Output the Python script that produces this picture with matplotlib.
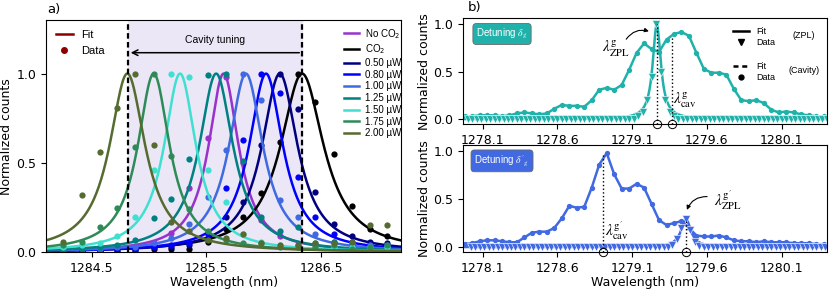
import numpy as np
import matplotlib
matplotlib.use("Agg")
import matplotlib.pyplot as plt
from matplotlib.lines import Line2D

# ---------------- panel a: cavity tuning ----------------
SERIES_LABELS = ["No CO$_2$", "CO$_2$", "0.50 µW", "0.80 µW", "1.00 µW",
                 "1.25 µW", "1.50 µW", "1.75 µW", "2.00 µW"]
SERIES_COLORS = ["darkorchid", "black", "navy", "blue", "royalblue",
                 "teal", "turquoise", "seagreen", "darkolivegreen"]
# Lorentzian fit parameters (nm)
FIT_CENTERS = [1285.65, 1286.335, 1286.14, 1286.02, 1285.845,
               1285.585, 1285.27, 1285.04, 1284.81]
FIT_HWHM = [0.16, 0.23, 0.19, 0.18, 0.18, 0.18, 0.17, 0.17, 0.19]

DATA_WL = [1284.25, 1284.41, 1284.57, 1284.72, 1284.88, 1285.04, 1285.19,
           1285.35, 1285.51, 1285.67, 1285.82, 1285.98, 1286.14, 1286.30,
           1286.45, 1286.61, 1286.77, 1286.93, 1287.08]
counts_no_co2 = [0.02, 0.02, 0.02, 0.03, 0.03, 0.05, 0.11, 0.36, 0.64, 0.98,
                 0.50, 0.18, 0.09, 0.04, 0.03, 0.03, 0.02, 0.02, 0.02]
counts_co2 = [0.01, 0.01, 0.01, 0.00, 0.01, 0.02, 0.02, 0.02, 0.06, 0.13,
              0.20, 0.33, 0.62, 1.00, 0.84, 0.55, 0.26, 0.13, 0.09]
counts_050 = [0.01, 0.01, 0.01, 0.02, 0.02, 0.03, 0.03, 0.04, 0.08, 0.20,
              0.28, 0.60, 1.00, 0.80, 0.34, 0.16, 0.09, 0.06, 0.05]
counts_080 = [0.01, 0.01, 0.01, 0.01, 0.02, 0.03, 0.04, 0.05, 0.10, 0.36,
              0.63, 1.00, 0.89, 0.42, 0.20, 0.10, 0.06, 0.04, 0.03]
counts_100 = [0.01, 0.02, 0.02, 0.03, 0.03, 0.05, 0.08, 0.16, 0.31, 0.57,
              1.00, 0.85, 0.29, 0.20, 0.10, 0.06, 0.05, 0.04, 0.04]
counts_125 = [0.02, 0.02, 0.03, 0.04, 0.07, 0.19, 0.30, 0.52, 0.99, 1.00,
              0.51, 0.20, 0.12, 0.14, 0.05, 0.06, 0.04, 0.03, 0.03]
counts_150 = [0.03, 0.04, 0.05, 0.09, 0.20, 0.46, 1.00, 0.98, 0.46, 0.28,
              0.10, 0.06, 0.04, 0.03, 0.03, 0.03, 0.03, 0.03, 0.03]
counts_175 = [0.04, 0.06, 0.14, 0.25, 0.59, 1.00, 0.54, 0.24, 0.12, 0.07,
              0.05, 0.05, 0.03, 0.03, 0.03, 0.04, 0.02, 0.03, 0.04]
counts_200 = [0.06, 0.32, 0.56, 0.81, 1.00, 0.60, 0.17, 0.12, 0.07, 0.08,
              0.10, 0.05, 0.04, 0.04, 0.05, 0.05, 0.06, 0.15, 0.15]
SERIES_COUNTS = [counts_no_co2, counts_co2, counts_050, counts_080, counts_100,
                 counts_125, counts_150, counts_175, counts_200]

TUNING_START = 1286.335
TUNING_END = 1284.815

# ---------------- panel b: detuning spectra ----------------
CAV_WL = [1277.98, 1278.03, 1278.08, 1278.13, 1278.18, 1278.23, 1278.28,
          1278.33, 1278.38, 1278.43, 1278.48, 1278.53, 1278.58, 1278.63,
          1278.68, 1278.73, 1278.78, 1278.83, 1278.88, 1278.93, 1278.98,
          1279.03, 1279.08, 1279.13, 1279.18, 1279.23, 1279.28, 1279.33,
          1279.38, 1279.43, 1279.48, 1279.53, 1279.58, 1279.63, 1279.68,
          1279.73, 1279.78, 1279.83, 1279.88, 1279.93, 1279.98, 1280.03,
          1280.08, 1280.13, 1280.18, 1280.23, 1280.28, 1280.33, 1280.38]
cav_top = [0.03, 0.03, 0.04, 0.04, 0.04, 0.03, 0.04, 0.06, 0.07, 0.06,
           0.05, 0.06, 0.11, 0.15, 0.14, 0.14, 0.13, 0.20, 0.31, 0.33,
           0.31, 0.36, 0.52, 0.70, 0.80, 0.74, 0.71, 0.84, 0.90, 0.92,
           0.88, 0.70, 0.53, 0.49, 0.49, 0.47, 0.32, 0.20, 0.19, 0.20,
           0.17, 0.10, 0.07, 0.08, 0.07, 0.05, 0.04, 0.03, 0.03]
cav_bot = [0.03, 0.04, 0.06, 0.07, 0.07, 0.06, 0.05, 0.05, 0.10, 0.15,
           0.16, 0.16, 0.20, 0.30, 0.43, 0.41, 0.42, 0.62, 0.86, 0.98,
           0.76, 0.61, 0.61, 0.66, 0.62, 0.45, 0.28, 0.23, 0.25, 0.27,
           0.20, 0.12, 0.11, 0.11, 0.12, 0.10, 0.07, 0.06, 0.06, 0.05,
           0.06, 0.05, 0.05, 0.05, 0.04, 0.04, 0.04, 0.03, 0.03]

# ZPL spectra, 0.03 nm spectrometer pixels
zpl_top_wl = np.round(np.arange(81) * 0.03 + 1278.00, 2)
zpl_top = [0.0] * 38 + [0.03, 0.07, 0.20, 0.45, 1.00, 0.50, 0.20, 0.08, 0.03] + [0.0] * 34
zpl_bot_wl = np.round(np.arange(81) * 0.03 + 1278.02, 2)
zpl_bot = [0.0] * 45 + [0.02, 0.08, 0.20, 0.29, 0.18, 0.05, 0.01] + [0.0] * 29

# ZPL Lorentzian fits: center, hwhm, amplitude
ZPL_FIT_TOP = (1279.265, 0.033, 1.0)
ZPL_FIT_BOT = (1279.46, 0.040, 0.29)
CAV_PEAK_TOP = (1279.364, 0.88)
CAV_PEAK_BOT = (1278.907, 0.98)

TEAL_B = "lightseagreen"
BLUE_B = "royalblue"
SANS = "Liberation Sans"


def lorentz(x, c, g, a=1.0):
    return a / (1.0 + ((x - c) / g) ** 2)


fig = plt.figure(figsize=(8.3, 2.92), dpi=100)
ax_a = fig.add_axes([0.0554, 0.136, 0.428, 0.7955])
ax_t = fig.add_axes([0.558, 0.5743, 0.4378, 0.3630])
ax_b = fig.add_axes([0.558, 0.136, 0.4378, 0.3675])

# ---- panel a ----
xa = np.linspace(1284.1, 1287.2, 600)
ax_a.axvspan(TUNING_END, TUNING_START, color="#ebe7f7", zorder=0)
for lab, col, c, g, ys in zip(SERIES_LABELS, SERIES_COLORS, FIT_CENTERS,
                              FIT_HWHM, SERIES_COUNTS):
    ax_a.plot(xa, lorentz(xa, c, g), color=col, lw=1.8, label=lab)
    ax_a.plot(DATA_WL, ys, "o", color=col, ms=4.5, mew=0)
for xv in (TUNING_END, TUNING_START):
    ax_a.axvline(xv, color="k", ls=(0, (2.5, 1.5)), lw=1.6, zorder=5)
ax_a.annotate("", xy=(TUNING_END, 1.117), xytext=(TUNING_START, 1.117),
              arrowprops=dict(arrowstyle="->", color="k", lw=1.1))
ax_a.text((TUNING_START + TUNING_END) / 2, 1.19, "Cavity tuning", ha="center",
          va="center", fontsize=7.5, family=SANS)
ax_a.set_xlim(1284.1, 1287.2)
ax_a.set_ylim(0, 1.3)
ax_a.set_xticks([1284.5, 1285.5, 1286.5])
ax_a.set_yticks([0.0, 0.5, 1.0])
ax_a.tick_params(labelsize=9)
ax_a.set_xlabel("Wavelength (nm)", fontsize=9, labelpad=1)
ax_a.set_ylabel("Normalized counts", fontsize=9, labelpad=2)

leg_r = ax_a.legend(loc="upper right", bbox_to_anchor=(1.02, 1.0), frameon=False,
                    prop={"family": SANS, "size": 7}, labelspacing=0.18,
                    handlelength=1.6, handletextpad=0.6, borderaxespad=0.3)
ax_a.add_artist(leg_r)
proxy_a = [Line2D([], [], color="darkred", lw=1.8),
           Line2D([], [], ls="none", marker="o", color="darkred", ms=4)]
ax_a.legend(proxy_a, ["Fit", "Data"], loc="upper left", frameon=False,
            prop={"family": SANS, "size": 8}, handlelength=1.5,
            borderaxespad=0.5)

# ---- panel b ----
def draw_b(ax, cav, zpl_wl, zpl, zfit, col, cav_peak, label):
    xf = np.linspace(1277.97, 1280.40, 800)
    ax.plot(CAV_WL, cav, "-o", color=col, lw=1.8, ms=3.8, mew=0)
    ax.plot(xf, lorentz(xf, *zfit), color=col, lw=1.8)
    ax.plot(zpl_wl, zpl, "v", color=col, ms=5.5, mec="white", mew=0.4)
    ax.set_xlim(1277.97, 1280.40)
    ax.set_ylim(-0.055, 1.065)
    y0 = ax.get_ylim()[0]
    ax.plot([zfit[0], zfit[0]], [y0, zfit[2]], "k:", lw=1)
    ax.plot([cav_peak[0], cav_peak[0]], [y0, cav_peak[1]], "k:", lw=1)
    ax.plot([zfit[0], cav_peak[0]], [y0, y0], "o", mfc="none", mec="k",
            ms=6, mew=0.7, clip_on=False, zorder=6)
    ax.set_xticks([1278.1, 1278.6, 1279.1, 1279.6, 1280.1])
    ax.set_yticks([0.0, 0.5, 1.0])
    ax.tick_params(labelsize=9)
    ax.set_ylabel("Normalized counts", fontsize=9, labelpad=2)
    ax.text(0.107, 0.852, label, transform=ax.transAxes, ha="center",
            va="center", color="white", fontsize=7, family=SANS,
            math_fontfamily="stix",
            bbox=dict(boxstyle="round,pad=0.35", fc=col, ec="dimgray", lw=0.6))


draw_b(ax_t, cav_top, zpl_top_wl, zpl_top, ZPL_FIT_TOP, TEAL_B, CAV_PEAK_TOP,
       r"Detuning $\delta_g$")
draw_b(ax_b, cav_bot, zpl_bot_wl, zpl_bot, ZPL_FIT_BOT, BLUE_B, CAV_PEAK_BOT,
       r"Detuning $\delta'_g$")
ax_b.set_xlabel("Wavelength (nm)", fontsize=9, labelpad=1)

lam_kw = dict(fontsize=11, ha="center", va="center", math_fontfamily="stix")
ax_t.text(1278.994, 0.74, r"$\lambda^{\mathrm{g}}_{\mathrm{ZPL}}$", **lam_kw)
ax_t.text(1279.456, 0.20, r"$\lambda^{\mathrm{g}}_{\mathrm{cav}}$", **lam_kw)
ax_t.annotate("", xy=(1279.23, 0.92), xytext=(1279.05, 0.82),
              arrowprops=dict(arrowstyle="-|>", color="k", lw=0.8,
                              mutation_scale=6,
                              connectionstyle="arc3,rad=-0.4"))
ax_b.text(1279.0, 0.17, r"$\lambda^{\mathrm{g}'}_{\mathrm{cav}}$", **lam_kw)
ax_b.text(1279.74, 0.49, r"$\lambda^{\mathrm{g}'}_{\mathrm{ZPL}}$", **lam_kw)
ax_b.annotate("", xy=(1279.46, 0.36), xytext=(1279.62, 0.525),
              arrowprops=dict(arrowstyle="-|>", color="k", lw=0.8,
                              mutation_scale=6,
                              connectionstyle="arc3,rad=0.4"))

# legend for panel b (top)
zpl_handles = [Line2D([], [], color="k", lw=1.8),
               Line2D([], [], ls="none", marker="v", color="k", ms=4)]
cav_handles = [Line2D([], [], color="k", lw=1.8, ls=(0, (2, 1.5))),
               Line2D([], [], ls="none", marker="o", color="k", ms=3.5)]
leg_z = ax_t.legend(zpl_handles, ["Fit", "Data"], loc="upper left",
                    bbox_to_anchor=(0.72, 0.99), frameon=False,
                    prop={"family": SANS, "size": 6.5}, labelspacing=0.15,
                    handlelength=1.8)
ax_t.add_artist(leg_z)
ax_t.legend(cav_handles, ["Fit", "Data"], loc="upper left",
            bbox_to_anchor=(0.72, 0.66), frameon=False,
            prop={"family": SANS, "size": 6.5}, labelspacing=0.15,
            handlelength=1.8)
ax_t.text(0.937, 0.836, "(ZPL)", transform=ax_t.transAxes, ha="center",
          va="center", fontsize=6.5, family=SANS)
ax_t.text(0.937, 0.512, "(Cavity)", transform=ax_t.transAxes, ha="center",
          va="center", fontsize=6.5, family=SANS)

fig.text(0.057, 0.966, "a)", fontsize=9.5, ha="left", va="center")
fig.text(0.564, 0.973, "b)", fontsize=9.5, ha="left", va="center")

fig.savefig("out.png", dpi=100)
